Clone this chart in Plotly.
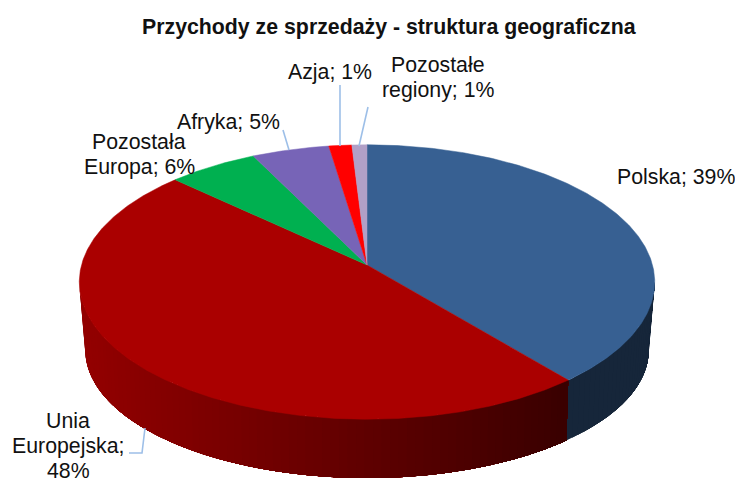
import numpy as np
import plotly.graph_objects as go

# ---- data (percent of revenue, clockwise from 12 o'clock)
categories = ["Polska", "Unia Europejska", "Pozostała Europa", "Afryka", "Azja", "Pozostałe regiony"]
values = [39.0, 48.0, 5.7, 4.9, 1.45, 0.95]

# ---- style
colors = [(0x37, 0x60, 0x92), (0xAA, 0x00, 0x00), (0x00, 0xB0, 0x50),
          (0x77, 0x64, 0xB7), (0xFF, 0x00, 0x00), (0xB1, 0xA0, 0xC7)]
wall_floor = [0.40, 0.34, 0.34, 0.34, 0.34, 0.34]
title = "Przychody ze sprzedaży - struktura geograficzna"
FONT = "Liberation Sans"
TEXT = "#111111"
LEADER = "#9DBFE8"
LINE_PITCH = 25

# ---- label layout: (text lines, x, y of the first line)
label_layout = [
    (["Polska; {}%"], 676, 177),
    (["Unia", "Europejska;", "{}%"], 68, 421),
    (["Pozostała", "Europa; {}%"], 139, 142),
    (["Afryka; {}%"], 228, 122),
    (["Azja; {}%"], 330, 72),
    (["Pozostałe", "regiony; {}%"], 438, 65),
]
leaders = [
    ([129, 142, 145], [453, 453, 428]),
    ([283, 289], [130, 150]),
    ([340, 340], [85, 146]),
    ([368, 359], [107, 146]),
]

# ---- perspective projection of the pie disc: top face and lower rim
CX = 367
TOP = dict(y0=265, a=135.1, b=285.5, k=-0.124)
BOT = dict(y0=332, a=125.6, b=279.0, k=-0.14)


def project(deg, p):
    r = np.radians(deg)
    X, Y = np.sin(r), -np.cos(r)
    d = 1 + p["k"] * Y
    return CX + p["b"] * X / d, p["y0"] + p["a"] * Y / d


def rgb(c, f=1.0):
    return "rgb({},{},{})".format(*[int(round(v * f)) for v in c])


def shade(x, floor):
    return max(floor, 0.86 - 0.52 * (x - 85) / 475)


fracs = np.array(values) / sum(values) * 360
ends = np.cumsum(fracs)
starts = ends - fracs

fig = go.Figure()

# side wall: each slice is painted as a stack of shrinking bands so that the
# shading runs left to right without seams
W0, W1 = 97.0, 263.0
for s, e, c, fl in zip(starts, ends, colors, wall_floor):
    s2, e2 = max(s, W0), min(e, W1)
    if e2 <= s2:
        continue
    arc = np.linspace(s2, e2, max(2, int(np.ceil((e2 - s2) / 0.5))))
    tx, ty = project(arc, TOP)
    bx, by = project(arc, BOT)
    # paint from the light (left) side: the band must end at the light side
    for i in range(0, len(arc) - 1, 3):
        # band i covers everything on the dark side of arc index -> paint light first
        j = len(arc) - 1 - i
        col = rgb(c, shade(tx[j], fl))
        px = np.concatenate([tx[:j + 1], bx[:j + 1][::-1], tx[:1]])
        py = np.concatenate([ty[:j + 1], by[:j + 1][::-1], ty[:1]])
        fig.add_trace(go.Scatter(x=px, y=py, mode="lines", fill="toself", fillcolor=col,
                                 line=dict(width=0), hoverinfo="skip", showlegend=False))

# top face
for s, e, c, name, v in zip(starts, ends, colors, categories, values):
    ang = np.linspace(s, e, max(3, int((e - s) * 2)))
    xs, ys = project(ang, TOP)
    x = np.concatenate([[CX], xs, [CX]])
    y = np.concatenate([[TOP["y0"]], ys, [TOP["y0"]]])
    fig.add_trace(go.Scatter(
        x=x, y=y, mode="lines", fill="toself", fillcolor=rgb(c),
        line=dict(color=rgb(c), width=0.5), name=name,
        hovertemplate=f"{name}: {v}%<extra></extra>", showlegend=False))

# leader lines
for lx, ly in leaders:
    fig.add_trace(go.Scatter(x=lx, y=ly, mode="lines", line=dict(color=LEADER, width=1.6),
                             hoverinfo="skip", showlegend=False))

annotations = [
    dict(x=389, y=27, text=f"<b>{title}</b>", showarrow=False,
         font=dict(family=FONT, size=21.3, color=TEXT), xanchor="center", yanchor="middle")
]
for (lines, lx, ly), v in zip(label_layout, values):
    for n, line in enumerate(lines):
        annotations.append(dict(x=lx, y=ly + n * LINE_PITCH, text=line.format(int(round(v))),
                                showarrow=False, font=dict(family=FONT, size=21.3, color=TEXT),
                                xanchor="center", yanchor="middle"))

fig.update_layout(
    width=735, height=478, margin=dict(l=0, r=0, t=0, b=0),
    paper_bgcolor="white", plot_bgcolor="white", showlegend=False,
    xaxis=dict(range=[0, 735], visible=False, fixedrange=True),
    yaxis=dict(range=[478, 0], visible=False, fixedrange=True),
    annotations=annotations,
)
fig.write_html("out.html", config=dict(displayModeBar=False),
               post_script="document.body.style.margin='0';document.body.style.overflow='hidden';")
